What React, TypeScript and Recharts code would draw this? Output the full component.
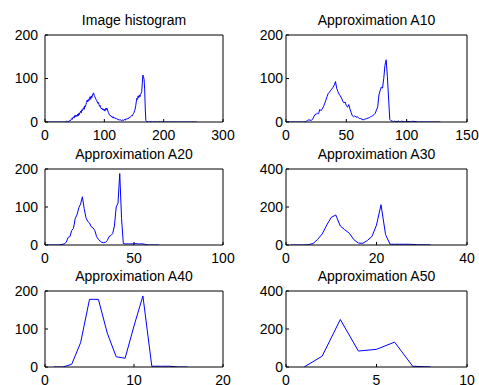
import React from 'react';
import { LineChart, Line, XAxis, YAxis } from 'recharts';

const histogram = [
  0, 0, 0, 0, 0, 0, 0, 0, 0, 0, 0, 0, 0, 0, 0, 0, 0, 0, 0, 0, 0, 0, 0, 0, 0, 0, 0, 0, 0, 0, 0, 0, 0,
  0, 1, 2, 1, 0, 2, 1, 3, 2, 4, 5, 8, 6, 10, 12, 9, 14,
  16, 12, 15, 13, 18, 14, 20, 17, 22, 25,
  21, 28, 26, 30, 33, 29, 37, 35, 40, 45,
  50, 46, 52, 49, 55, 58, 52, 60, 56, 62,
  65, 67, 60, 58, 55, 52, 50, 46, 43, 45,
  40, 36, 38, 33, 30, 32, 28, 30, 27, 29,
  25, 31, 28, 32, 30, 25, 22, 18, 16, 14,
  15, 12, 13, 10, 12, 9, 10, 8, 9, 7,
  8, 6, 7, 5, 6, 4, 5, 4, 3, 5,
  4, 3, 5, 6, 4, 7, 6, 8, 7, 9,
  8, 11, 10, 12, 13, 15, 14, 17, 19, 22,
  26, 30, 38, 48, 55, 52, 60, 56, 62, 58,
  64, 66, 70, 90, 108, 104, 98, 74, 30, 3,
  1, 2, 1, 0, 1, 0, 1, 1, 0, 1,
  0, 1, 0, 0, 1, 0, 1, 0, 0, 1,
  0, 0, 1, 0, 0, 1, 0, 0, 0, 1,
  0, 0, 0, 1, 0, 0, 0, 0, 1, 0,
  0, 0, 0, 1, 0, 0, 0, 0, 0, 0,
  0, 0, 0, 0, 0, 0, 0, 0, 0, 0, 0, 0, 0, 0, 0, 0, 0, 0,
  0, 0, 0, 0, 0, 0, 0, 0, 0, 0, 0, 0, 0, 0, 0, 0, 0, 0
];

const approxA10 = [
  0, 0, 0, 0, 0, 0, 0, 0, 0, 0, 0, 0, 0, 0, 0,
  1, 2, 4, 5, 4, 4, 6, 12, 17, 18, 20, 19, 29, 26, 30,
  35, 42, 50, 58, 66, 68, 73, 76, 80, 85,
  93, 78, 70, 64, 60, 55, 48, 44, 46, 38,
  34, 40, 30, 22, 14, 12, 14, 11, 12, 10,
  8, 8, 6, 5, 6, 7, 8, 9, 10, 12,
  13, 15, 17, 20, 28, 35, 62, 72, 80, 78,
  100, 130, 143, 105, 55, 6, 3, 2, 1, 2,
  1, 1, 2, 1, 1, 2, 1, 1, 1, 2,
  1, 1, 1, 1, 2, 1, 1, 1, 0, 0,
  0, 0, 0, 0, 0, 0, 0, 0, 0, 0, 0, 0, 0, 0, 0, 0, 0, 0
];

const approxA20 = [
  0, 0, 0, 0, 0, 0, 0, 0, 1, 2,
  3, 8, 20, 22, 38, 44, 70, 80, 98, 108,
  127, 96, 72, 62, 58, 48, 45, 38, 22, 15,
  10, 7, 6, 7, 12, 22, 25, 30, 50, 100,
  110, 188, 70, 4, 3, 3, 3, 3, 3, 3,
  4, 3, 3, 3, 3, 2, 1, 0, 0, 0,
  0, 0, 0, 0
];

const approxA30 = [
  0, 0, 0, 0, 2, 8, 30, 58, 105, 145,
  158, 100, 80, 62, 28, 10, 9, 24, 45, 105,
  212, 55, 4, 4, 4, 4, 4, 3, 1, 1,
  1, 0
];

const approxA40 = [0, 0, 7, 64, 178, 178, 89, 27, 23, 108, 187, 2, 2, 2, 0, 0];

const approxA50 = [0, 57, 250, 84, 93, 131, 4, 0];

const titles = ['Image histogram', 'Approximation A10', 'Approximation A20', 'Approximation A30', 'Approximation A40', 'Approximation A50'];

const FONT = '"Liberation Sans", Arial, Helvetica, sans-serif';
const ML = 50;
const MT = 10;
const MR = 24;
const MB = 26;

interface PanelProps {
  title: string;
  values: number[];
  left: number;
  top: number;
  width: number;
  height: number;
  xMax: number;
  xTicks: number[];
  yMax: number;
  yTicks: number[];
  yGap: number;
}

const Panel: React.FC<PanelProps> = ({
  title, values, left, top, width, height, xMax, xTicks, yMax, yTicks, yGap
}) => {
  const data = values.map((v, i) => ({ x: i + 1, y: v }));
  const tick = { fill: '#000', fontSize: 14, fontFamily: FONT };
  return <>
      <div style={{
      position: 'absolute',
      left,
      top: top - 24,
      width,
      textAlign: 'center',
      fontSize: 14,
      lineHeight: '18px',
      fontFamily: FONT,
      color: '#000',
      whiteSpace: 'nowrap'
    }}>{title}</div>
      <div style={{ position: 'absolute', left: left - ML, top: top - MT }}>
        {/* top axis is 1px high and right axis 1px wide, so margins drop by 1 */}
        <LineChart width={width + ML + MR} height={height + MT + MB} data={data} margin={{ top: MT - 1, right: MR - 1, bottom: 0, left: 0 }}>
          <XAxis dataKey="x" type="number" domain={[0, xMax]} ticks={xTicks} interval={0} allowDataOverflow height={MB} stroke="#000" tickSize={-3} tickMargin={11} tick={tick} />
          <XAxis xAxisId="top" orientation="top" dataKey="x" type="number" domain={[0, xMax]} ticks={xTicks} interval={0} allowDataOverflow height={1} stroke="#000" tickSize={-3} tick={false} />
          <YAxis type="number" domain={[0, yMax]} ticks={yTicks} interval={0} allowDataOverflow width={ML} stroke="#000" tickSize={-3} tickMargin={yGap + 3} tick={tick} />
          <YAxis yAxisId="right" orientation="right" type="number" domain={[0, yMax]} ticks={yTicks} interval={0} allowDataOverflow width={1} stroke="#000" tickSize={-3} tick={false} />
          <Line dataKey="y" type="linear" stroke="#0000ff" strokeWidth={1} dot={false} isAnimationActive={false} />
        </LineChart>
      </div>
    </>;
};

const App: React.FC = () => {
  return <div style={{ position: 'absolute', left: 0, top: 0, width: 479, height: 385, background: '#fff' }}>
      <Panel title={titles[0]} values={histogram} left={45} top={35} width={178} height={87} xMax={300} xTicks={[0, 100, 200, 300]} yMax={200} yTicks={[0, 100, 200]} yGap={7} />
      <Panel title={titles[1]} values={approxA10} left={286} top={35} width={181} height={87} xMax={150} xTicks={[0, 50, 100, 150]} yMax={200} yTicks={[0, 100, 200]} yGap={3} />
      <Panel title={titles[2]} values={approxA20} left={45} top={169} width={178} height={76} xMax={100} xTicks={[0, 50, 100]} yMax={200} yTicks={[0, 100, 200]} yGap={7} />
      <Panel title={titles[3]} values={approxA30} left={286} top={169} width={181} height={76} xMax={40} xTicks={[0, 20, 40]} yMax={400} yTicks={[0, 200, 400]} yGap={3} />
      <Panel title={titles[4]} values={approxA40} left={45} top={291} width={178} height={76} xMax={20} xTicks={[0, 10, 20]} yMax={200} yTicks={[0, 100, 200]} yGap={7} />
      <Panel title={titles[5]} values={approxA50} left={286} top={291} width={181} height={76} xMax={10} xTicks={[0, 5, 10]} yMax={400} yTicks={[0, 200, 400]} yGap={3} />
    </div>;
};

export default App;
